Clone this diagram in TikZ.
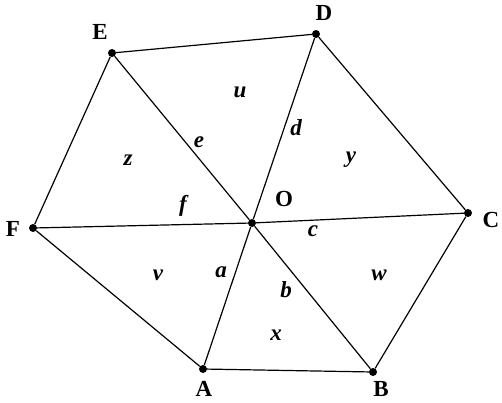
\documentclass[tikz,border=0pt]{standalone}
\usepackage{fontspec}
\setmainfont{Liberation Serif}
\begin{document}
\begin{tikzpicture}[x=1pt,y=-1pt,
  pt/.style={circle,fill=black,inner sep=0pt,minimum size=8pt},
  vlab/.style={font=\fontsize{23}{23}\selectfont\bfseries,inner sep=1pt},
  elab/.style={font=\fontsize{23}{23}\selectfont\bfseries\itshape},
  edge/.style={line width=1.2pt}]
\useasboundingbox (0,0) rectangle (502,402);
\node[pt] (E) at (112,53) {};
\node[pt] (D) at (316,34) {};
\node[pt] (C) at (468,213) {};
\node[pt] (B) at (373,372) {};
\node[pt] (A) at (203,369) {};
\node[pt] (F) at (33,228) {};
\node[pt] (O) at (252,223) {};
\draw[edge] (E) -- (D) -- (C) -- (B) -- (A) -- (F) -- (E);
\draw[edge] (E) -- (O) -- (B);
\draw[edge] (D) -- (O) -- (A);
\draw[edge] (F) -- (O) -- (C);
\node[vlab] (lE) at (100,32) {E};
\node[vlab] (lD) at (324,13) {D};
\node[vlab] (lC) at (491,220) {C};
\node[vlab] (lB) at (381,389) {B};
\node[vlab] (lA) at (204,389) {A};
\node[vlab] (lF) at (13,229) {F};
\node[vlab] (lO) at (284,199) {O};
\node[elab] (u) at (240,92) {u};
\node[elab] (d) at (296,128) {d};
\node[elab] (e) at (199,142) {e};
\node[elab] (z) at (128,160) {z};
\node[elab] (y) at (351,160) {y};
\node[elab] (f) at (183,206) {f};
\node[elab] (c) at (313,231) {c};
\node[elab] (v) at (158,275) {v};
\node[elab] (a) at (221,272) {a};
\node[elab] (b) at (286,290) {b};
\node[elab] (w) at (379,275) {w};
\node[elab] (x) at (276,335) {x};
\end{tikzpicture}
\end{document}
